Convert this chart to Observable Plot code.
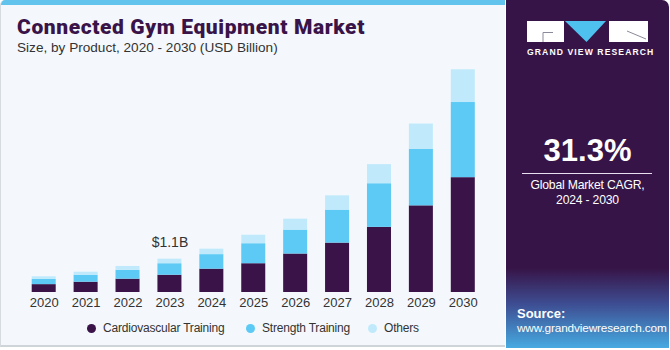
<!DOCTYPE html>
<html>
<head>
<meta charset="utf-8">
<script src="https://cdn.jsdelivr.net/npm/d3@7"></script>
<script src="https://cdn.jsdelivr.net/npm/@observablehq/plot@0.6"></script>
<style>
  html, body { margin: 0; padding: 0; background: #ffffff; }
  #wrap { position: relative; width: 670px; height: 350px; overflow: hidden; font-family: "Liberation Sans", Arial, sans-serif; }
  #left { position: absolute; left: 0; top: 0; width: 505px; height: 347px; background: #f4f8fc; border-left: 1px solid #d6dbe0; border-bottom: 2px solid #cfd4d9; box-sizing: border-box; border-top-left-radius: 5px; overflow: hidden; }
  #strip { position: absolute; left: 0; top: 0; width: 505px; height: 5px; background: #62c3ec; }
  #title { position: absolute; left: 17px; top: 15px; font-family: Roboto, "Liberation Sans", sans-serif; font-size: 21px; letter-spacing: 0.6px; font-weight: 900; color: #3a1449; white-space: nowrap; }
  #subtitle { position: absolute; left: 17px; top: 40px; font-size: 13.6px; color: #333; white-space: nowrap; }
  #chart { position: absolute; left: 0; top: 40px; }
  #legend { position: absolute; left: 0; top: 319px; height: 18px; width: 505px; font-size: 12px; letter-spacing: -0.2px; color: #333; }
  .lg { position: absolute; top: 0; white-space: nowrap; line-height: 18px; }
  .dot { position: absolute; top: 5px; width: 9px; height: 9px; border-radius: 50%; }
  #right { position: absolute; left: 506px; top: 0; width: 163px; height: 348px; background: #371447; border-top-right-radius: 7px; overflow: hidden; }
  #grad { position: absolute; left: 0; top: 268px; width: 163px; height: 80px; background: linear-gradient(to bottom, rgba(55,20,71,1) 0%, rgba(62,80,150,0.95) 45%, rgba(70,170,225,1) 100%); }
  #cagr { position: absolute; left: 0; width: 163px; top: 133px; text-align: center; color: #fff; font-size: 31px; font-weight: bold; }
  #rule { position: absolute; left: 16px; width: 130px; top: 173px; height: 1px; background: #e8e0ee; }
  #cagrtxt { position: absolute; left: 0; width: 163px; top: 178px; text-align: center; color: #fff; font-size: 12.2px; letter-spacing: -0.2px; line-height: 15px; }
  #src { position: absolute; left: 11px; top: 307px; color: #fff; font-size: 11.8px; letter-spacing: -0.15px; line-height: 14px; white-space: nowrap; }
  #gvr { position: absolute; left: 21px; top: 47px; color: #fff; font-size: 8.6px; font-weight: bold; letter-spacing: 1.1px; white-space: nowrap; }
</style>
</head>
<body>
<div id="wrap">
  <div id="left">
    <div id="strip"></div>
  </div>
  <div id="title">Connected Gym Equipment Market</div>
  <div id="subtitle">Size, by Product, 2020 - 2030 (USD Billion)</div>
  <div id="chart"></div>
  <div id="legend"></div>
  <div id="right">
    <div id="grad"></div>
    <svg width="163" height="50" style="position:absolute;left:0;top:0">
      <rect x="21" y="21" width="37" height="21" fill="#ffffff"></rect>
      <path d="M37 42 V32.5 H47" stroke="#8a8a9a" stroke-width="1" fill="none"></path>
      <path d="M59 21 H100 L80.5 42 Z" fill="#4fc1ef"></path>
      <rect x="103" y="21" width="39" height="21" fill="#ffffff"></rect>
      <path d="M121 31 L140 39" stroke="#8a8a9a" stroke-width="1" fill="none"></path>
    </svg>
    <div id="gvr">GRAND VIEW RESEARCH</div>
    <div id="cagr">31.3%</div>
    <div id="rule"></div>
    <div id="cagrtxt">Global Market CAGR,<br>2024 - 2030</div>
    <div id="src"><b style="font-size:13px;letter-spacing:0">Source:</b><br>www.grandviewresearch.com</div>
  </div>
</div>
<script>
// ---- data (USD Billion) ----
const years    = ["2020","2021","2022","2023","2024","2025","2026","2027","2028","2029","2030"];
const cardio   = [0.26, 0.34, 0.44, 0.57, 0.77, 0.95, 1.27, 1.63, 2.15, 2.86, 3.79];
const strength = [0.17, 0.23, 0.29, 0.38, 0.48, 0.66, 0.79, 1.09, 1.44, 1.87, 2.48];
const others   = [0.09, 0.10, 0.13, 0.15, 0.18, 0.28, 0.36, 0.47, 0.63, 0.83, 1.08];
const seriesNames  = ["Cardiovascular Training", "Strength Training", "Others"];
const seriesColors = ["#3a1449", "#5ccaf5", "#c0eafb"];
const labelYears = ["2023"];
const labelTexts = ["$1.1B"];

const seriesValues = [cardio, strength, others];
const rows = [];
years.forEach((yr, i) => {
  seriesNames.forEach((s, k) => rows.push({year: yr, series: s, value: seriesValues[k][i]}));
});
const totals = years.map((yr, i) => cardio[i] + strength[i] + others[i]);
const labels = labelYears.map((yr, j) => ({year: yr, total: totals[years.indexOf(yr)], text: labelTexts[j]}));

const chart = Plot.plot({
  width: 505,
  height: 280,
  marginLeft: 22.75,
  marginRight: 21.25,
  marginTop: 9.6,
  marginBottom: 28,
  style: {fontFamily: "Liberation Sans, Arial, sans-serif", fontSize: "13px", color: "#333", background: "transparent"},
  x: {domain: years, paddingInner: 0.427, paddingOuter: 0.2135, round: false, label: null},
  y: {domain: [0, 8], axis: null},
  color: {domain: seriesNames, range: seriesColors},
  marks: [
    Plot.barY(rows, {x: "year", y: "value", fill: "series"}),
    Plot.axisX({tickSize: 0, tickPadding: 5, fontSize: 13, fill: "#333", label: null}),
    Plot.text(labels, {x: "year", y: "total", text: "text", dy: -12, lineAnchor: "bottom", fontSize: 14, fill: "#333"})
  ]
});
document.getElementById("chart").appendChild(chart);

// legend
const legendX = [87, 246, 368];
const legend = document.getElementById("legend");
seriesNames.forEach((s, k) => {
  const item = document.createElement("div");
  item.className = "lg";
  item.style.left = legendX[k] + "px";
  item.innerHTML = `<span class="dot" style="left:0;background:${seriesColors[k]}"></span><span style="margin-left:16px">${s}</span>`;
  legend.appendChild(item);
});
</script>
</body>
</html>
